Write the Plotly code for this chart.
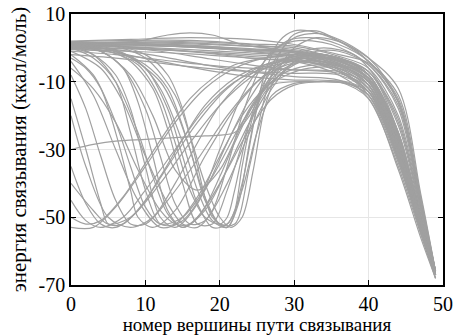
import plotly.graph_objects as go

# x/y key points of each binding-path energy profile
curve_x = [
    [0, 8, 16, 24, 30, 36, 40, 44, 47, 49],
    [0, 8, 16, 24, 30, 36, 40, 44, 47, 49],
    [0, 8, 16, 24, 30, 36, 40, 44, 47, 49],
    [0, 8, 16, 24, 30, 36, 40, 44, 47, 49],
    [0, 8, 16, 24, 30, 36, 40, 44, 47, 49],
    [0, 8, 16, 24, 30, 36, 40, 44, 47, 49],
    [0, 8, 16, 24, 30, 36, 40, 44, 47, 49],
    [0, 8, 16, 24, 30, 36, 40, 44, 47, 49],
    [0, 8, 16, 24, 30, 36, 40, 44, 47, 49],
    [0, 8, 16, 24, 30, 36, 40, 44, 47, 49],
    [0, 8, 16, 24, 30, 36, 40, 44, 47, 49],
    [0, 8, 16, 24, 30, 36, 40, 44, 47, 49],
    [0, 5, 9, 13, 16, 19, 23, 28, 32, 36, 40, 44, 47, 49],
    [0, 6, 12, 18, 24, 30, 36, 40, 44, 47, 49],
    [0, 6, 12, 18, 24, 30, 36, 40, 44, 47, 49],
    [0, 6, 12, 18, 24, 30, 36, 40, 44, 47, 49],
    [0, 2, 4, 6, 8, 10, 13, 17, 21, 25, 29, 33, 37, 40, 44, 47, 49],
    [0, 3, 6, 8, 10, 12, 15, 19, 23, 27, 31, 35, 40, 44, 47, 49],
    [0, 3, 6, 9, 11, 13, 15, 17, 20, 24, 28, 32, 36, 40, 44, 47, 49],
    [0, 4, 7, 10, 12, 14, 16, 18, 21, 24, 27, 30, 33, 36, 40, 44, 47, 49],
    [0, 4, 8, 12, 14, 16, 18, 20, 22, 24, 26, 28, 30, 33, 36, 40, 44, 47, 49],
    [0, 5, 9, 12, 15, 17, 19, 21, 23, 25, 27, 30, 34, 40, 44, 47, 49],
    [0, 4, 7, 10, 13, 15, 17, 19, 21, 23, 25, 27, 30, 35, 40, 44, 47, 49],
    [0, 3, 6, 9, 12, 15, 18, 21, 24, 27, 30, 34, 40, 44, 47, 49],
    [0, 2, 5, 8, 11, 14, 17, 20, 24, 28, 32, 36, 40, 44, 47, 49],
    [0, 2, 4, 6, 9, 12, 15, 18, 22, 26, 30, 34, 37, 40, 44, 47, 49],
    [0, 3, 6, 10, 14, 18, 22, 26, 30, 34, 37, 40, 44, 47, 49],
    [0, 2, 4, 7, 10, 13, 16, 19, 22, 26, 30, 36, 40, 44, 47, 49],
    [0, 3, 6, 10, 14, 18, 22, 24, 26, 29, 33, 37, 40, 44, 47, 49],
    [0, 2, 4, 7, 10, 14, 18, 22, 26, 30, 34, 40, 44, 47, 49],
    [0, 4, 7, 9, 11, 13, 15, 18, 21, 24, 27, 30, 34, 37, 40, 44, 47, 49],
    [0, 6, 10, 13, 15, 17, 19, 21, 23, 25, 27, 30, 33, 37, 40, 44, 47, 49],
    [0, 6, 10, 13, 16, 18, 20, 21, 22, 23, 24, 25, 27, 30, 34, 37, 40, 44, 47, 49],
    [0, 5, 9, 12, 14, 16, 18, 20, 21, 22, 24, 26, 28, 32, 36, 40, 44, 47, 49],
    [0, 2, 4, 6, 8, 9, 11, 14, 18, 22, 26, 30, 35, 40, 44, 47, 49],
    [0, 3, 5, 8, 12, 16, 20, 24, 28, 32, 36, 40, 44, 47, 49],
    [0, 2, 4, 5, 7, 10, 13, 17, 21, 25, 29, 33, 37, 40, 44, 47, 49],
    [0, 3, 6, 8, 10, 12, 14, 17, 20, 23, 26, 29, 32, 36, 40, 44, 47, 49],
    [0, 5, 8, 11, 13, 15, 17, 19, 21, 24, 27, 30, 34, 38, 40, 44, 47, 49],
    [0, 3, 6, 8, 10, 12, 14, 17, 20, 23, 26, 29, 32, 36, 40, 44, 47, 49],
    [0, 4, 8, 11, 14, 17, 20, 24, 28, 32, 36, 40, 44, 47, 49],
    [0, 3, 6, 9, 12, 14, 16, 18, 20, 22, 25, 28, 31, 35, 40, 44, 47, 49],
    [0, 5, 10, 13, 15, 17, 19, 21, 22.5, 24, 26, 28, 30, 32, 36, 40, 44, 47, 49],
    [0, 5, 10, 14, 16, 18, 20, 21.5, 23, 24.5, 26, 28, 30, 33, 37, 40, 44, 47, 49],
    [0, 8, 16, 24, 30, 36, 40, 44, 47, 49],
    [0, 8, 16, 24, 30, 36, 40, 44, 47, 49],
    [0, 8, 16, 24, 30, 36, 40, 44, 47, 49],
    [0, 6, 12, 18, 24, 30, 36, 40, 44, 47, 49],
    [0, 6, 12, 18, 24, 30, 36, 40, 44, 47, 49],
    [0, 6, 12, 18, 24, 30, 36, 40, 44, 47, 49],
]

curve_y = [
    [1.5, 1.8, 1.5, 0.5, -1, -4, -8, -25, -50, -67],
    [1.0, 1.2, 0.8, -0.5, -1.5, -5, -10, -28, -52, -67],
    [0.5, 0.8, 0.2, -1, -2, -6, -12, -31, -53, -67],
    [1.8, 2.2, 2.2, 1.2, 0.5, -2.5, -6, -20, -47, -66],
    [0.0, -0.3, -1, -2, -3, -7, -14, -34, -54, -68],
    [1.2, 1.5, 1.2, 0.5, 0, -3.5, -7, -23, -49, -67],
    [0.8, 0.3, -0.5, -1.5, -2.5, -6.5, -13, -32, -53, -67],
    [1.5, 1.0, 0.2, -0.8, -1.5, -4.5, -9, -27, -51, -67],
    [-0.5, -1, -1.8, -3, -4, -8, -15, -35, -55, -68],
    [2.0, 2.5, 3.0, 2.5, 1, -2, -4.5, -16, -45, -66],
    [1.0, 0.2, -1, -2.5, -3.5, -7, -13, -33, -54, -67],
    [0.3, 0.6, 0.3, -0.5, -1, -4, -9, -26, -50, -67],
    [1, 1.5, 2, 3.8, 4.4, 3.8, 1, -0.5, -1.5, -4, -8, -26, -50, -67],
    [0.5, -0.5, -2.5, -5, -7, -8.5, -9.5, -14, -33, -54, -67],
    [1, 0.5, -1, -3, -5, -6.5, -7, -11, -30, -52, -67],
    [0, -1.5, -4, -6.5, -8.5, -9.5, -10, -15, -36, -56, -68],
    [-8, -18, -32, -45, -52, -52, -45, -33, -20, -10, -5, -4, -6, -10, -29, -52, -67],
    [-2, -8, -22, -35, -47, -52, -50, -38, -22, -10, -4, -3, -9, -28, -51, -67],
    [0, -3, -10, -25, -38, -49, -53, -50, -40, -22, -8, -2, -3, -8, -26, -50, -67],
    [0.5, -1, -6, -18, -32, -46, -52, -51, -40, -25, -12, -4, -1, -1, -5, -17, -46, -66],
    [1, 0, -3, -10, -18, -30, -44, -52, -52, -35, -15, -2, 4, 5, 2, -4, -14, -44, -66],
    [1, 0, -4, -12, -28, -42, -51, -53, -40, -18, -5, 3, 4, -3, -16, -46, -66],
    [-1, -6, -16, -32, -46, -52, -53, -48, -35, -20, -8, -1, 2, 1, -5, -18, -47, -66],
    [-4, -14, -30, -45, -53, -51, -42, -28, -15, -6, -2, -2, -7, -25, -50, -67],
    [-20, -35, -50, -53, -50, -40, -28, -17, -8, -4, -3, -5, -10, -29, -52, -67],
    [-35, -46, -52, -53, -48, -38, -27, -17, -9, -5, -4, -5, -7, -12, -31, -53, -67],
    [-53, -53, -47, -35, -22, -12, -6, -3, -2, -3, -6, -11, -30, -52, -67],
    [-50, -52, -51, -44, -34, -24, -15, -9, -5, -3, -2, -5, -10, -28, -51, -67],
    [-30, -28.5, -27.5, -27, -26.5, -26, -25, -20, -12, -7, -5, -6, -11, -30, -52, -67],
    [-45, -51, -53, -50, -42, -30, -18, -10, -6, -4, -4, -9, -27, -51, -67],
    [0.5, -1, -6, -16, -32, -48, -53, -48, -36, -24, -15, -11, -10, -10.5, -14, -33, -54, -67],
    [1, -1, -6, -18, -32, -46, -53, -52, -42, -25, -14, -10.5, -10, -10, -13, -32, -53, -67],
    [0.5, -1, -5, -12, -30, -45, -52, -52, -48, -35, -24, -17, -11, -10, -10, -10.5, -13, -32, -54, -67],
    [0, -1, -5, -15, -28, -42, -50, -52, -50, -42, -22, -10, -5, -3, -4, -9, -26, -50, -67],
    [-3, -6, -12, -25, -42, -50, -53, -48, -32, -18, -8, -3, -3, -9, -27, -51, -67],
    [-40, -48, -52, -50, -40, -28, -17, -9, -4, -2, -3, -8, -25, -50, -67],
    [-15, -30, -46, -52, -52, -45, -35, -22, -12, -6, -3, -2, -4, -8, -26, -50, -67],
    [0, -2, -8, -18, -35, -50, -53, -46, -30, -14, -4, 2, 3, 1, -4, -16, -46, -66],
    [0, -1, -4, -12, -24, -40, -52, -52, -42, -22, -8, -2, 0, -2, -6, -21, -48, -66],
    [0.5, -2, -10, -25, -42, -52, -52, -44, -32, -20, -12, -8, -6, -6, -11, -30, -52, -67],
    [1, -1, -8, -20, -36, -42, -36, -18, -6, -2, -3, -8, -27, -51, -67],
    [-6, -12, -22, -36, -48, -52, -52, -47, -38, -28, -15, -7, -4, -3, -8, -27, -51, -67],
    [1.5, 1, -2, -8, -18, -35, -50, -53, -46, -28, -8, 2, 5, 5, 2, -3, -12, -43, -66],
    [1.2, 0.8, -3, -14, -26, -40, -50, -53, -50, -36, -18, -6, 0, 3, 1, -4, -15, -45, -66],
    [1.6, 1.4, 0.5, -1, -2.5, -5.5, -11, -30, -53, -67],
    [0.7, 1.0, 0.6, -0.2, -1.2, -4.5, -9.5, -27, -51, -67],
    [1.3, 1.6, 1.8, 1.0, -0.5, -3, -7, -22, -48, -66],
    [-1, -2, -3.5, -5, -6, -6.5, -7.5, -12, -31, -53, -67],
    [-2, -3, -4.5, -6, -7, -7.5, -8, -13, -33, -54, -67],
    [0, 0, -0.5, -1.5, -3, -4, -5.5, -10, -29, -52, -67],
]

x_ticks = [0, 10, 20, 30, 40, 50]
y_ticks = [-70, -50, -30, -10, 10]
y_tick_text = ["-70", "-50", "-30", "-10", "10"]

FONT = "Liberation Serif"

fig = go.Figure()
for xs, ys in zip(curve_x, curve_y):
    fig.add_trace(go.Scatter(
        x=xs, y=ys, mode="lines",
        line=dict(color="#a0a0a0", width=1.2, shape="spline", smoothing=0.9),
        showlegend=False, hoverinfo="skip",
    ))

axis_common = dict(
    showline=True, linecolor="black", linewidth=1.5, mirror="ticks",
    ticks="inside", ticklen=5, tickcolor="black", tickwidth=1,
    showgrid=True, gridcolor="#e6e6e6", gridwidth=1,
    zeroline=False, automargin=False,
    tickfont=dict(family=FONT, size=20, color="black"),
)

fig.update_layout(
    template="none",
    width=455, height=335,
    margin=dict(l=71, r=12, t=14, b=50),
    paper_bgcolor="white", plot_bgcolor="white",
    font=dict(family=FONT, color="black"),
    xaxis=dict(
        range=[0, 50], tickvals=x_ticks, ticklabelstandoff=0,
        title=dict(text="номер вершины пути связывания",
                   font=dict(family=FONT, size=19, color="black"), standoff=30),
        **axis_common,
    ),
    yaxis=dict(
        range=[-70, 10], tickvals=y_ticks, ticktext=y_tick_text,
        title=dict(text="энергия связывания (ккал/моль)",
                   font=dict(family=FONT, size=21, color="black"), standoff=6),
        **axis_common,
    ),
)

fig.write_html("out.html")
